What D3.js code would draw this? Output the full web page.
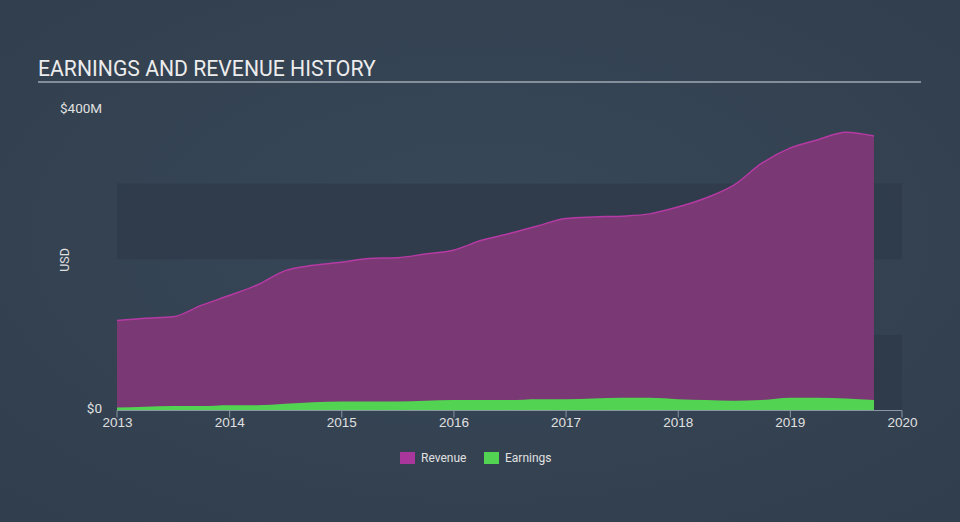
<!DOCTYPE html>
<html><head><meta charset="utf-8">
<script src="https://cdn.jsdelivr.net/npm/d3@7"></script>
<style>html,body{margin:0;padding:0;background:#344354;}svg{display:block;font-family:Roboto,"Open Sans",sans-serif;}</style>
</head><body>
<svg id="c" width="960" height="522"></svg>
<script>
const dates = [2013.0,2013.25,2013.5,2013.75,2014.0,2014.25,2014.5,2014.75,2015.0,2015.25,2015.5,2015.75,2016.0,2016.25,2016.5,2016.75,2017.0,2017.25,2017.5,2017.75,2018.0,2018.25,2018.5,2018.75,2019.0,2019.25,2019.5,2019.75];
const revenue = [119,122,124,139,152,166,185,192,196,201,202,207,212,225,234,244,254,256,257,260,269,281,298,327,347,358,368,363];
const earnings = [4,5,6,6,7,7,9,11,12,12,12,13,14,14,14,15,15,16,17,17,15,14,13,14,17,17,16,14];
const xTicks = [2013,2014,2015,2016,2017,2018,2019,2020];
const yTicks = [0,400];
const yTickLabels = ["$0","$400M"];
const seriesNames = ["Revenue","Earnings"];
const seriesFill = ["#7a3874","#52d452"];
const legendColors = ["#a8369b","#52d452"];

const svg = d3.select("#c");
const defs = svg.append("defs");
const g0 = defs.append("radialGradient").attr("id","bg").attr("cx","50%").attr("cy","45%").attr("r","70%");
g0.append("stop").attr("offset","0%").attr("stop-color","#384859");
g0.append("stop").attr("offset","100%").attr("stop-color","#313e4d");
svg.append("rect").attr("width",960).attr("height",522).attr("fill","url(#bg)");

const x = d3.scaleLinear().domain([2013,2020]).range([117,902]);
const y = d3.scaleLinear().domain([0,400]).range([410.5,108]);

// bands
[[0,100],[200,300]].forEach(b=>{
  svg.append("rect").attr("x",x(2013)).attr("width",x(2020)-x(2013))
    .attr("y",y(b[1])).attr("height",y(b[0])-y(b[1])).attr("fill","#2f3b4a").attr("opacity",0.85);
});

// title
svg.append("text").attr("x",38).attr("y",76).attr("fill","#ececec").attr("font-size",21.2).text("EARNINGS AND REVENUE HISTORY");
svg.append("line").attr("x1",38).attr("x2",921).attr("y1",82).attr("y2",82).attr("stroke","#a0a8b0").attr("stroke-width",1.5);

const data = dates.map((d,i)=>({d, r:revenue[i], e:earnings[i]}));
const curve = d3.curveMonotoneX;
svg.append("path").datum(data).attr("fill",seriesFill[0])
  .attr("d",d3.area().x(p=>x(p.d)).y0(y(0)).y1(p=>y(p.r)).curve(curve));
svg.append("path").datum(data).attr("fill","none").attr("stroke","#b53aa3").attr("stroke-width",1.5)
  .attr("d",d3.line().x(p=>x(p.d)).y(p=>y(p.r)).curve(curve));
svg.append("path").datum(data).attr("fill",seriesFill[1])
  .attr("d",d3.area().x(p=>x(p.d)).y0(y(0)).y1(p=>y(p.e)).curve(curve));

// x axis
const xa = svg.append("g").attr("transform",`translate(0,${y(0)})`)
  .call(d3.axisBottom(x).tickValues(xTicks).tickFormat(d3.format("d")).tickSize(7));
xa.select(".domain").attr("stroke","#8a96a3").attr("d",`M${x(2013)},7V0H${x(2020)}V7`);
xa.selectAll(".tick line").attr("stroke","#8a96a3");
xa.selectAll(".tick text").attr("fill","#e0e0e0").attr("font-size",13.5).attr("dy","0.62em").attr("y",8);
xa.selectAll(".tick").filter(d=>d===2013||d===2020).select("line").remove();

// y labels
svg.append("text").attr("x",102).attr("y",y(0)).attr("dy","0.2em").attr("text-anchor","end").attr("fill","#e0e0e0").attr("font-size",13.5).text(yTickLabels[0]);
svg.append("text").attr("x",60).attr("y",y(400)).attr("dy","0.35em").attr("fill","#e0e0e0").attr("font-size",13.5).text(yTickLabels[1]);
svg.append("text").attr("transform","translate(69,260) rotate(-90)").attr("text-anchor","middle").attr("fill","#e0e0e0").attr("font-size",12.5).text("USD");

// legend
const lx = [400,484];
seriesNames.forEach((n,i)=>{
  svg.append("rect").attr("x",lx[i]).attr("y",452).attr("width",15).attr("height",12).attr("fill",legendColors[i]);
  svg.append("text").attr("x",lx[i]+21).attr("y",458).attr("dy","0.35em").attr("fill","#e0e0e0").attr("font-size",12).text(n);
});
</script>
</body></html>
